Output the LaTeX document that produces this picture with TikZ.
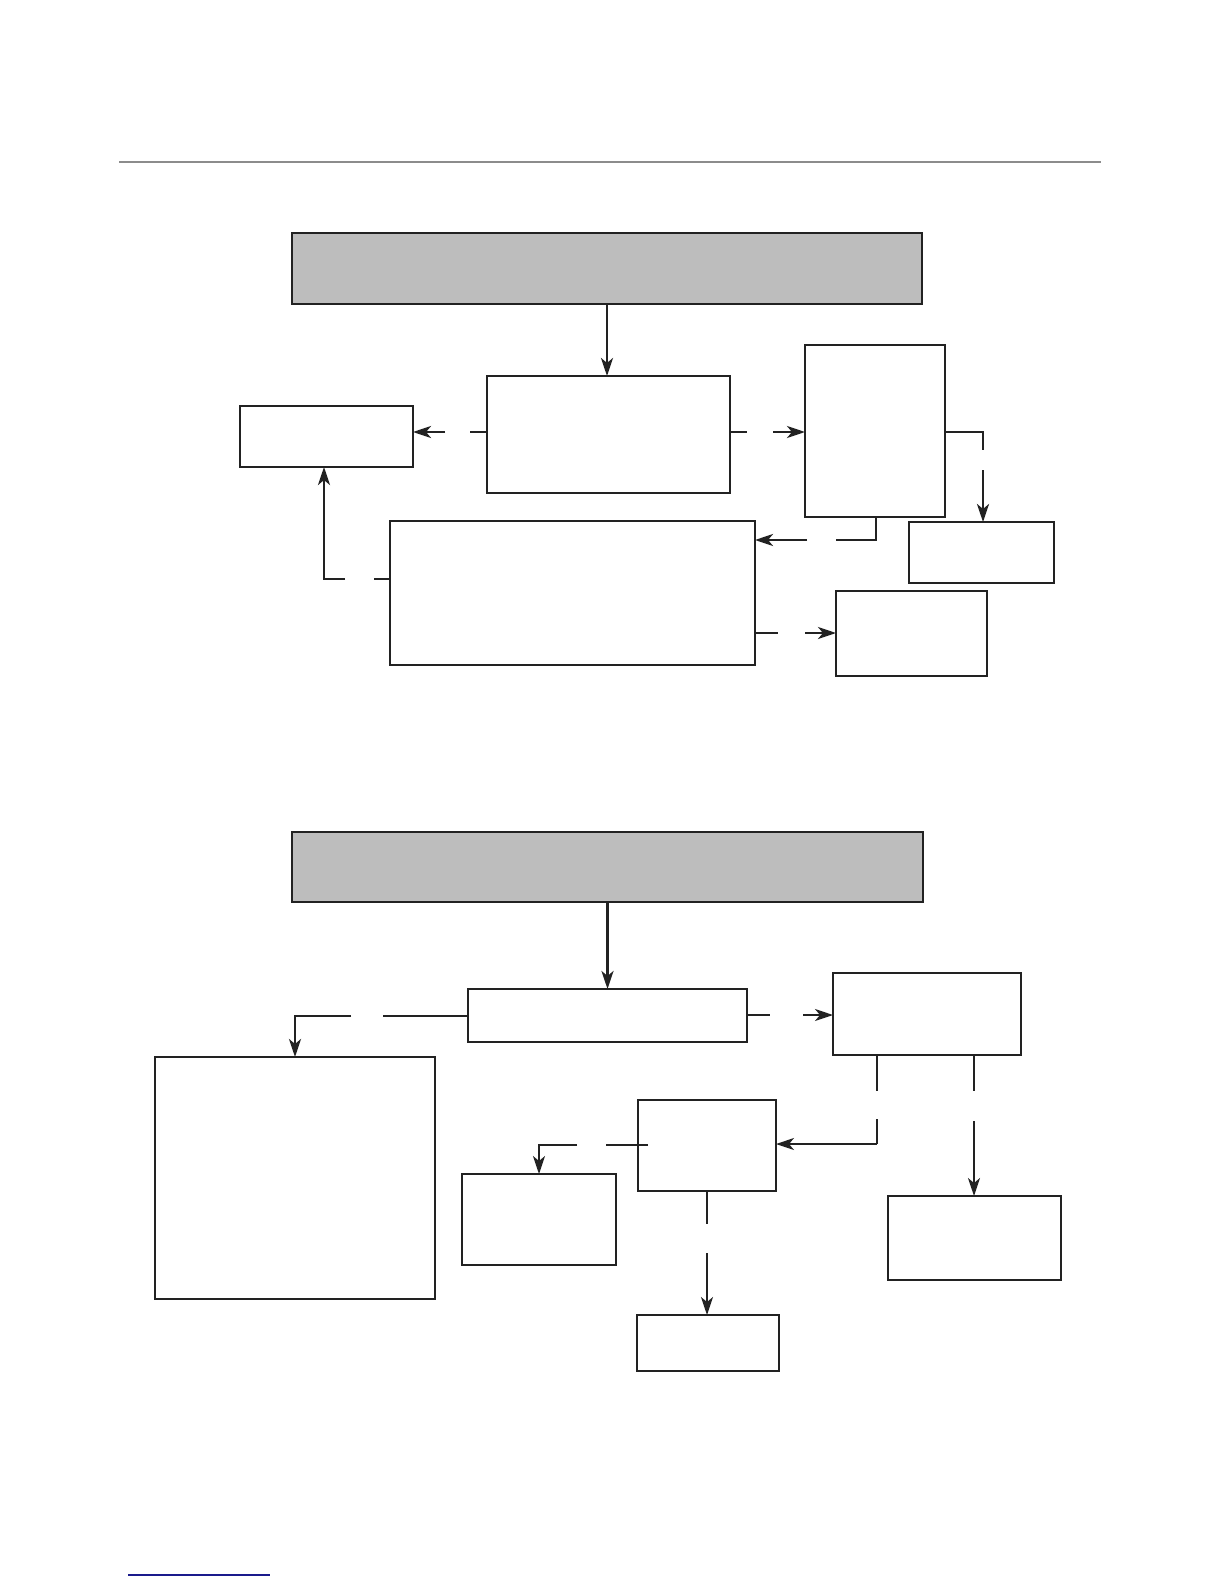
\documentclass[tikz,border=0pt]{standalone}
\usetikzlibrary{arrows.meta}
\definecolor{hdrgray}{HTML}{BDBDBD}
\definecolor{rulegray}{HTML}{8C8C8C}
\definecolor{linkblue}{HTML}{1A1A8C}
\definecolor{ink}{HTML}{222222}
\begin{document}
\begin{tikzpicture}[x=1pt,y=-1pt,
  box/.style={draw=ink, line width=1.2pt, fill=white, anchor=north west, inner sep=0pt, outer sep=0pt},
  gbox/.style={box, fill=hdrgray},
  conn/.style={draw=ink, line width=2.7pt},
  thinconn/.style={draw=ink, line width=1.5pt},
  tip/.style={-{Stealth[length=18pt,width=12pt,inset=5pt]}}]
\useasboundingbox (0,0) rectangle (1224,1584);
\fill[white] (0,0) rectangle (1224,1584);

% rules
\coordinate (r1) at (119,161.6);
\coordinate (r2) at (1101,161.6);
\draw[rulegray, line width=2pt] (r1) -- (r2);
\coordinate (u1) at (128,1575);
\coordinate (u2) at (270,1575);
\draw[linkblue, line width=1.5pt] (u1) -- (u2);

% ---------- top diagram ----------
\node[gbox, minimum width=630pt, minimum height=71pt] (G1) at (292,233) {};
\node[box, minimum width=173pt, minimum height=61pt] (A) at (240,406) {};
\node[box, minimum width=243pt, minimum height=117pt] (B) at (487,376) {};
\node[box, minimum width=140pt, minimum height=172pt] (C) at (805,345) {};
\node[box, minimum width=365pt, minimum height=144pt] (D) at (390,521) {};
\node[box, minimum width=145pt, minimum height=61pt] (E) at (909,522) {};
\node[box, minimum width=151pt, minimum height=85pt] (F) at (836,591) {};

% G1 -> B
\draw[conn,tip] (G1.south) -- (G1.south |- B.north);
% B -> A
\coordinate (ba1) at (470,432);
\coordinate (ba2) at (445,432);
\draw[conn] (B.west |- ba1) -- (ba1);
\draw[conn,tip] (ba2) -- (A.east |- ba2);
% B -> C
\coordinate (bc1) at (747,432);
\coordinate (bc2) at (773,432);
\draw[conn] (B.east |- bc1) -- (bc1);
\draw[conn,tip] (bc2) -- (C.west |- bc2);
% C -> E
\coordinate (ce1) at (983,432);
\coordinate (ce2) at (983,450);
\coordinate (ce3) at (983,470);
\draw[conn] (C.east |- ce1) -- (ce1) -- (ce2);
\draw[conn,tip] (ce3) -- (ce3 |- E.north);
% C -> D
\coordinate (cd0) at (876,517);
\coordinate (cd1) at (876,540);
\coordinate (cd2) at (836,540);
\coordinate (cd3) at (807,540);
\draw[conn] (C.south -| cd0) -- (cd1) -- (cd2);
\draw[conn,tip] (cd3) -- (D.east |- cd3);
% D -> F
\coordinate (df1) at (778,633);
\coordinate (df2) at (805,633);
\draw[conn] (D.east |- df1) -- (df1);
\draw[conn,tip] (df2) -- (F.west |- df2);
% D -> A
\coordinate (da1) at (374,579);
\coordinate (da2) at (345,579);
\coordinate (da3) at (324,579);
\draw[conn] (D.west |- da1) -- (da1);
\draw[conn,tip] (da2) -- (da3) -- (da3 |- A.south);

% ---------- bottom diagram ----------
\node[gbox, minimum width=631pt, minimum height=70pt] (G2) at (292,832) {};
\node[box, minimum width=279pt, minimum height=53pt] (G) at (468,989) {};
\node[box, minimum width=280pt, minimum height=242pt] (H) at (155,1057) {};
\node[box, minimum width=188pt, minimum height=82pt] (I) at (833,973) {};
\node[box, minimum width=138pt, minimum height=91pt] (J) at (638,1100) {};
\node[box, minimum width=173pt, minimum height=84pt] (K) at (888,1196) {};
\node[box, minimum width=154pt, minimum height=91pt] (L) at (462,1174) {};
\node[box, minimum width=142pt, minimum height=56pt] (M) at (637,1315) {};

% G2 -> G
\draw[conn,tip] (G2.south) -- (G2.south |- G.north);
% G -> H
\coordinate (gh1) at (383,1016);
\coordinate (gh2) at (351,1016);
\coordinate (gh3) at (H.north |- gh2);
\draw[conn] (G.west |- gh1) -- (gh1);
\draw[conn,tip] (gh2) -- (gh3) -- (H.north);
% G -> I
\coordinate (gi1) at (770,1015);
\coordinate (gi2) at (803,1015);
\draw[thinconn] (G.east |- gi1) -- (gi1);
\draw[thinconn,tip] (gi2) -- (I.west |- gi2);
% I -> J
\coordinate (ij0) at (877,1055);
\coordinate (ij1) at (877,1091);
\coordinate (ij2) at (877,1119);
\coordinate (ij3) at (877,1144);
\draw[conn] (I.south -| ij0) -- (ij1);
\draw[conn] (ij2) -- (ij3);
\draw[thinconn,tip] (ij3) -- (J.east |- ij3);
% I -> K
\coordinate (ik0) at (974,1055);
\coordinate (ik1) at (974,1091);
\coordinate (ik2) at (974,1121);
\draw[thinconn] (I.south -| ik0) -- (ik1);
\draw[thinconn,tip] (ik2) -- (ik2 |- K.north);
% J -> L
\coordinate (jl0) at (648,1145);
\coordinate (jl1) at (606,1145);
\coordinate (jl2) at (577,1145);
\coordinate (jl3) at (L.north |- jl2);
\draw[conn] (jl0) -- (jl1);
\draw[thinconn,tip] (jl2) -- (jl3) -- (L.north);
% J -> M
\coordinate (jm1) at (J.south |- 0,1224);
\coordinate (jm2) at (J.south |- 0,1253);
\draw[thinconn] (J.south) -- (jm1);
\draw[thinconn,tip] (jm2) -- (M.north -| jm2);
\end{tikzpicture}
\end{document}
